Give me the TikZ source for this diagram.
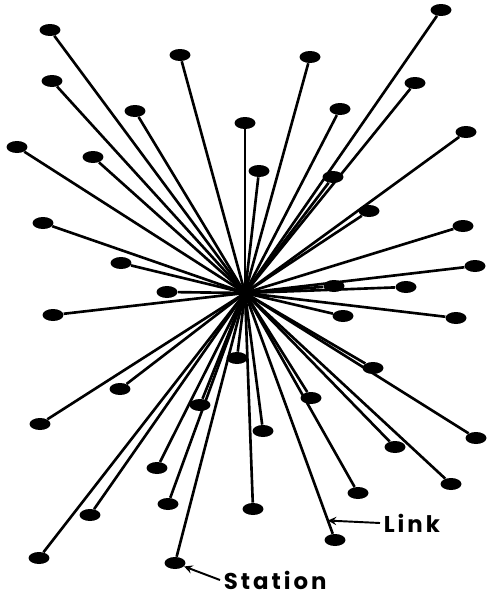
\documentclass[tikz,border=0pt]{standalone}
\usepackage{fontspec}
\setmainfont{Poppins}
\newfontfamily\labelfont[LetterSpace=13]{Poppins}
\usetikzlibrary{shapes.geometric}

\begin{document}
\begin{tikzpicture}[x=0.02cm, y=-0.02cm,
    mystation/.style={ellipse, fill=black, inner sep=0pt, minimum width=0.42cm, minimum height=0.24cm},
    mylink/.style={line width=1.5pt},
    mylabel/.style={font=\labelfont\bfseries\fontsize{13}{15}\selectfont, inner sep=2pt},
    myarrow/.style={->, >=stealth, line width=1.1pt}
]
    \useasboundingbox (0,0) rectangle (487,595);

    % hub where all links meet
    \coordinate (hub) at (245,293);

    % stations
    \foreach \x/\y [count=\i] in {50/30, 52/81, 135/111, 180/55, 17/147, 93/157, 245/123,
        441/10, 310/57, 415/83, 340/109, 466/132, 259/171, 333/177,
        43/223, 121/263, 167/292, 53/315, 120/389, 237/358,
        369/211, 463/226, 475/266, 334/286, 406/287, 343/316, 456/318, 373/368,
        40/424, 200/405, 157/468, 168/504, 90/515, 39/558, 175/563,
        253/509, 311/398, 263/431, 476/438, 395/447, 451/484, 358/493, 335/540}
        \node[mystation] (s\i) at (\x,\y) {};

    % links
    \foreach \i in {1,...,43}
        \draw[mylink] (hub) -- (s\i);

    % labels
    \path (hub) -- (s43) coordinate[pos=0.945] (linkpt);
    \node[mylabel, anchor=west] (linktxt) at (380,523) {Link};
    \draw[myarrow] (linktxt.west) -- (linkpt);

    \node[mylabel, anchor=west] (stattxt) at (220,580) {Station};
    \draw[myarrow] (stattxt.west) -- (s35);
\end{tikzpicture}
\end{document}
